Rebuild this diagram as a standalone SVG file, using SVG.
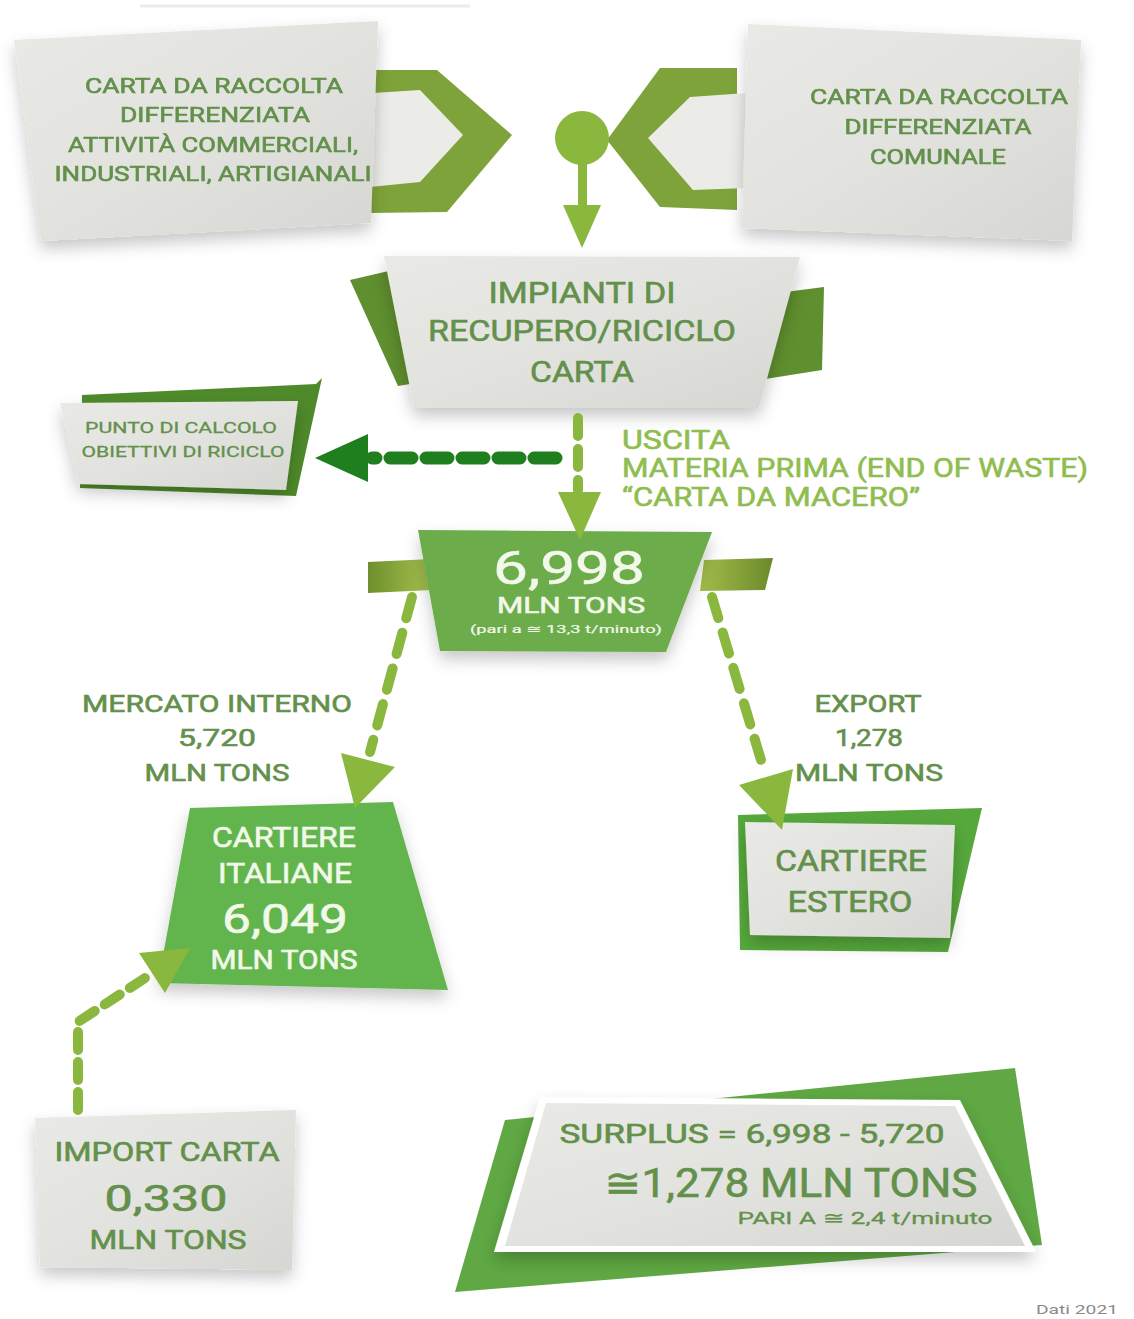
<svg xmlns="http://www.w3.org/2000/svg" width="1134" height="1319" viewBox="0 0 1134 1319">
<defs>
<linearGradient id="card" x1="0" y1="0" x2="1" y2="1">
<stop offset="0" stop-color="#e9eae6"/><stop offset="0.5" stop-color="#e2e3df"/><stop offset="1" stop-color="#d6d7d3"/>
</linearGradient>
<linearGradient id="bar" x1="0" y1="0" x2="1" y2="0">
<stop offset="0" stop-color="#6d8f2c"/><stop offset="1" stop-color="#a7c24f"/>
</linearGradient>
<linearGradient id="barR" x1="0" y1="0" x2="1" y2="0">
<stop offset="0" stop-color="#a3bd4a"/><stop offset="1" stop-color="#6b8a2a"/>
</linearGradient>
<filter id="sh" x="-20%" y="-20%" width="140%" height="150%">
<feDropShadow dx="0" dy="8" stdDeviation="8" flood-color="#000" flood-opacity="0.22"/>
</filter>
<style>
text{font-family:Roboto,"DejaVu Sans",sans-serif;text-anchor:middle;font-weight:400;stroke-width:0.6}
.g{fill:#63904b;stroke:#63904b}
.w{fill:#f2f8ea;stroke:#f2f8ea}
.u{fill:#8fbd4f;stroke:#8fbd4f;text-anchor:start}
.dash{fill:none;stroke:#8ab83e;stroke-linecap:round}
.ah{fill:#8ab83e}
</style>
</defs>
<rect width="1134" height="1319" fill="#ffffff"/>
<line x1="140" y1="6" x2="470" y2="6" stroke="#ececec" stroke-width="3"/>

<g id="chevron-left">
<polygon points="370,70 437,70 512,135 447,212 370,213" fill="#7ea33a"/>
<polygon points="373,93 420,90 463,135 420,182 370,187" fill="#ebece8"/>
</g>
<g id="chevron-right">
<polygon points="737,68 660,68 607,140 660,207 737,210" fill="#7ea33a"/>
<polygon points="747,93 690,97 648,138 693,190 747,188" fill="#ebece8"/>
</g>

<g id="card-commerciali" filter="url(#sh)">
<polygon points="14,40 378,21 371,223 41,241" fill="url(#card)"/>
<text class="g" font-size="21" x="214" y="93" textLength="258" lengthAdjust="spacingAndGlyphs">CARTA DA RACCOLTA</text>
<text class="g" font-size="21" x="215" y="122" textLength="190" lengthAdjust="spacingAndGlyphs">DIFFERENZIATA</text>
<text class="g" font-size="21" x="213" y="152" textLength="290" lengthAdjust="spacingAndGlyphs">ATTIVITÀ COMMERCIALI,</text>
<text class="g" font-size="21" x="213" y="181" textLength="317" lengthAdjust="spacingAndGlyphs">INDUSTRIALI, ARTIGIANALI</text>
</g>

<g id="card-comunale" filter="url(#sh)">
<polygon points="748,24 1081,40 1072,241 742,228" fill="url(#card)"/>
<text class="g" font-size="21" x="939" y="104" textLength="258" lengthAdjust="spacingAndGlyphs">CARTA DA RACCOLTA</text>
<text class="g" font-size="21" x="938" y="134" textLength="187" lengthAdjust="spacingAndGlyphs">DIFFERENZIATA</text>
<text class="g" font-size="21" x="938" y="164" textLength="136" lengthAdjust="spacingAndGlyphs">COMUNALE</text>
</g>

<g id="merge-point">
<circle cx="582" cy="138" r="27" fill="#8ab83e"/>
</g>

<g id="impianti">
<polygon points="350,280 393,270 416,383 398,386" fill="#5f8f2e"/>
<polygon points="770,294 824,287 822,370 752,381" fill="#5f8f2e"/>
<g filter="url(#sh)">
<polygon points="384,256 800,257 759,408 414,408" fill="url(#card)"/>
</g>
<text class="g" font-size="29" x="582" y="303" textLength="187" lengthAdjust="spacingAndGlyphs">IMPIANTI DI</text>
<text class="g" font-size="29" x="582" y="341" textLength="308" lengthAdjust="spacingAndGlyphs">RECUPERO/RICICLO</text>
<text class="g" font-size="29" x="582" y="382" textLength="104" lengthAdjust="spacingAndGlyphs">CARTA</text>
</g>

<g id="punto-calcolo">
<polygon points="82,395 316,384 322,378 296,496 80,488" fill="#4e8a2a"/>
<g filter="url(#sh)">
<polygon points="60,403 298,401 286,490 78,484" fill="url(#card)"/>
</g>
<text class="g" font-size="15" x="181" y="433" textLength="192" lengthAdjust="spacingAndGlyphs" style="stroke-width:0.3">PUNTO DI CALCOLO</text>
<text class="g" font-size="15" x="183" y="457" textLength="203" lengthAdjust="spacingAndGlyphs" style="stroke-width:0.3">OBIETTIVI DI RICICLO</text>
</g>

<g id="uscita-label">
<text class="u" font-size="25" x="622" y="449" textLength="108" lengthAdjust="spacingAndGlyphs">USCITA</text>
<text class="u" font-size="25" x="622" y="477" textLength="466" lengthAdjust="spacingAndGlyphs">MATERIA PRIMA (END OF WASTE)</text>
<text class="u" font-size="25" x="622" y="506" textLength="298" lengthAdjust="spacingAndGlyphs">“CARTA DA MACERO”</text>
</g>

<g id="totale-6998">
<polygon points="368,562 432,559 432,590 368,593" fill="url(#bar)"/>
<polygon points="704,560 773,558 765,590 700,591" fill="url(#barR)"/>
<g filter="url(#sh)">
<polygon points="418,530 712,532 666,652 440,651" fill="#6dac4c"/>
</g>
<text class="w" font-size="46" x="569" y="584" textLength="152" lengthAdjust="spacingAndGlyphs">6,998</text>
<text class="w" font-size="22" x="571" y="613" textLength="148" lengthAdjust="spacingAndGlyphs">MLN TONS</text>
<text class="w" font-size="11" x="566" y="633" textLength="192" lengthAdjust="spacingAndGlyphs" style="stroke-width:0.2">(pari a ≅ 13,3 t/minuto)</text>
</g>

<g id="label-mercato">
<text class="g" font-size="24" x="217" y="712" textLength="270" lengthAdjust="spacingAndGlyphs">MERCATO INTERNO</text>
<text class="g" font-size="24" x="217" y="746" textLength="78" lengthAdjust="spacingAndGlyphs">5,720</text>
<text class="g" font-size="24" x="217" y="781" textLength="145" lengthAdjust="spacingAndGlyphs">MLN TONS</text>
</g>
<g id="label-export">
<text class="g" font-size="24" x="868" y="712" textLength="107" lengthAdjust="spacingAndGlyphs">EXPORT</text>
<text class="g" font-size="24" x="869" y="746" textLength="68" lengthAdjust="spacingAndGlyphs">1,278</text>
<text class="g" font-size="24" x="869" y="781" textLength="148" lengthAdjust="spacingAndGlyphs">MLN TONS</text>
</g>

<g id="cartiere-italiane">
<g filter="url(#sh)">
<polygon points="190,808 393,802 448,990 158,983" fill="#62b54e"/>
</g>
<text class="w" font-size="27" x="284" y="847" textLength="144" lengthAdjust="spacingAndGlyphs">CARTIERE</text>
<text class="w" font-size="27" x="285" y="883" textLength="134" lengthAdjust="spacingAndGlyphs">ITALIANE</text>
<text class="w" font-size="40" x="285" y="933" textLength="126" lengthAdjust="spacingAndGlyphs">6,049</text>
<text class="w" font-size="25" x="284" y="969" textLength="147" lengthAdjust="spacingAndGlyphs">MLN TONS</text>
</g>

<g id="cartiere-estero">
<polygon points="738,815 982,808 948,952 740,950" fill="#56a83c"/>
<g filter="url(#sh)">
<polygon points="745,822 955,825 950,938 750,935" fill="url(#card)"/>
</g>
<text class="g" font-size="29" x="851" y="871" textLength="152" lengthAdjust="spacingAndGlyphs">CARTIERE</text>
<text class="g" font-size="29" x="850" y="912" textLength="125" lengthAdjust="spacingAndGlyphs">ESTERO</text>
</g>

<g id="import-carta">
<g filter="url(#sh)">
<polygon points="35,1118 296,1110 292,1270 40,1267" fill="url(#card)"/>
</g>
<text class="g" font-size="26" x="167" y="1161" textLength="225" lengthAdjust="spacingAndGlyphs">IMPORT CARTA</text>
<text class="g" font-size="37" x="166" y="1211" textLength="123" lengthAdjust="spacingAndGlyphs">0,330</text>
<text class="g" font-size="26" x="168" y="1249" textLength="157" lengthAdjust="spacingAndGlyphs">MLN TONS</text>
</g>

<g id="surplus">
<polygon points="505,1120 1015,1068 1042,1245 455,1292" fill="#5fa843"/>
<g filter="url(#sh)">
<polygon points="540,1097 960,1100 1036,1252 494,1252" fill="#ffffff"/>
<polygon points="546,1103 955,1106 1025,1246 505,1246" fill="url(#card)"/>
</g>
<text class="g" font-size="26" x="752" y="1143" textLength="385" lengthAdjust="spacingAndGlyphs">SURPLUS = 6,998 - 5,720</text>
<text class="g" font-size="40" x="791" y="1197" textLength="373" lengthAdjust="spacingAndGlyphs">≅1,278 MLN TONS</text>
<text class="g" font-size="17" x="865" y="1224" textLength="255" lengthAdjust="spacingAndGlyphs" style="stroke-width:0.3">PARI A ≅ 2,4  t/minuto</text>
</g>

<g id="connectors">
<rect x="578" y="163" width="9" height="44" fill="#8ab83e"/>
<polygon points="563,205 601,205 582,248" class="ah"/>
<line class="dash" x1="578" y1="418" x2="578" y2="490" stroke-width="10" stroke-dasharray="18 13"/>
<polygon points="558,492 601,492 580,540" class="ah"/>
<line x1="556" y1="458" x2="372" y2="458" stroke="#1f7f1f" stroke-width="13" stroke-linecap="round" stroke-dasharray="22 14"/>
<polygon points="315,458 368,434 368,482" fill="#1f7f1f"/>
<line class="dash" x1="412" y1="597" x2="370" y2="752" stroke-width="10" stroke-dasharray="22 15"/>
<polygon points="355,808 395,767 341,753" class="ah"/>
<line class="dash" x1="712" y1="597" x2="764" y2="770" stroke-width="10" stroke-dasharray="22 15"/>
<polygon points="782,830 793,769 739,785" class="ah"/>
<polyline class="dash" points="78,1110 78,1022 148,976" stroke-width="10" stroke-dasharray="18 12"/>
<polygon points="190,948 165,993 139,953" class="ah"/>
</g>

<text x="1077" y="1314" font-size="13" fill="#8a8a8a" textLength="82" lengthAdjust="spacingAndGlyphs">Dati 2021</text>
</svg>
